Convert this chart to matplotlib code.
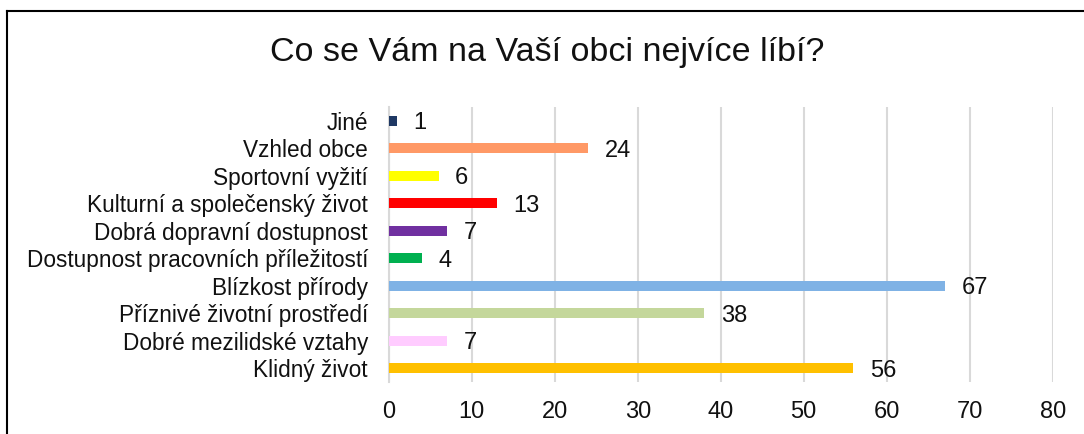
import matplotlib
matplotlib.use("Agg")
from matplotlib import pyplot as plt
from matplotlib.lines import Line2D

categories = ["Klidný život", "Dobré mezilidské vztahy", "Příznivé životní prostředí",
              "Blízkost přírody", "Dostupnost pracovních příležitostí",
              "Dobrá dopravní dostupnost", "Kulturní a společenský život",
              "Sportovní vyžití", "Vzhled obce", "Jiné"]
values = [56, 7, 38, 67, 4, 7, 13, 6, 24, 1]
colors = ["#FFC000", "#FFCCFF", "#C4D79B", "#7FB2E5", "#00B050",
          "#7030A0", "#FF0000", "#FFFF00", "#FF9966", "#1F3864"]
xticks = [0, 10, 20, 30, 40, 50, 60, 70, 80]

plt.rcParams['font.family'] = ['Liberation Sans', 'DejaVu Sans']

fig = plt.figure(figsize=(10.84, 4.34), dpi=100, facecolor='w')
ax = fig.add_axes([0.3586, 0.1198, 0.6125, 0.6337])

pos = range(len(categories))
ax.barh(pos, values, height=0.36, color=colors, zorder=3)
for y, v in zip(pos, values):
    ax.text(v + 2, y, str(v), va='center_baseline', ha='left', fontsize=17, color='#111111')

ax.set_xlim(0, 80)
ax.set_ylim(-0.5, len(categories) - 0.5)
ax.set_xticks(xticks)
ax.set_yticks(list(pos))
ax.set_yticklabels(categories)
ax.tick_params(axis='x', length=0, pad=14, labelsize=17, labelcolor='#111111')
ax.tick_params(axis='y', length=0, pad=15, labelsize=16.3, labelcolor='#111111')
ax.grid(axis='x', color='#D9D9D9', linewidth=1.5, zorder=0)
for side in ['top', 'right', 'bottom']:
    ax.spines[side].set_visible(False)
ax.spines['left'].set_color('#D9D9D9')
ax.spines['left'].set_linewidth(1.5)

fig.text(0.505, 0.878, "Co se Vám na Vaší obci nejvíce líbí?", ha='center', va='center',
         fontsize=24.5, color='#111111')

# ramecek (jen levy a horni okraj je videt)
fig.add_artist(Line2D([7 / 1084, 7 / 1084], [0, 1 - 11 / 434], transform=fig.transFigure,
                      color='black', linewidth=1.5))
fig.add_artist(Line2D([7 / 1084, 1], [1 - 11 / 434, 1 - 11 / 434], transform=fig.transFigure,
                      color='black', linewidth=1.5))

fig.savefig("out.png", dpi=100)
